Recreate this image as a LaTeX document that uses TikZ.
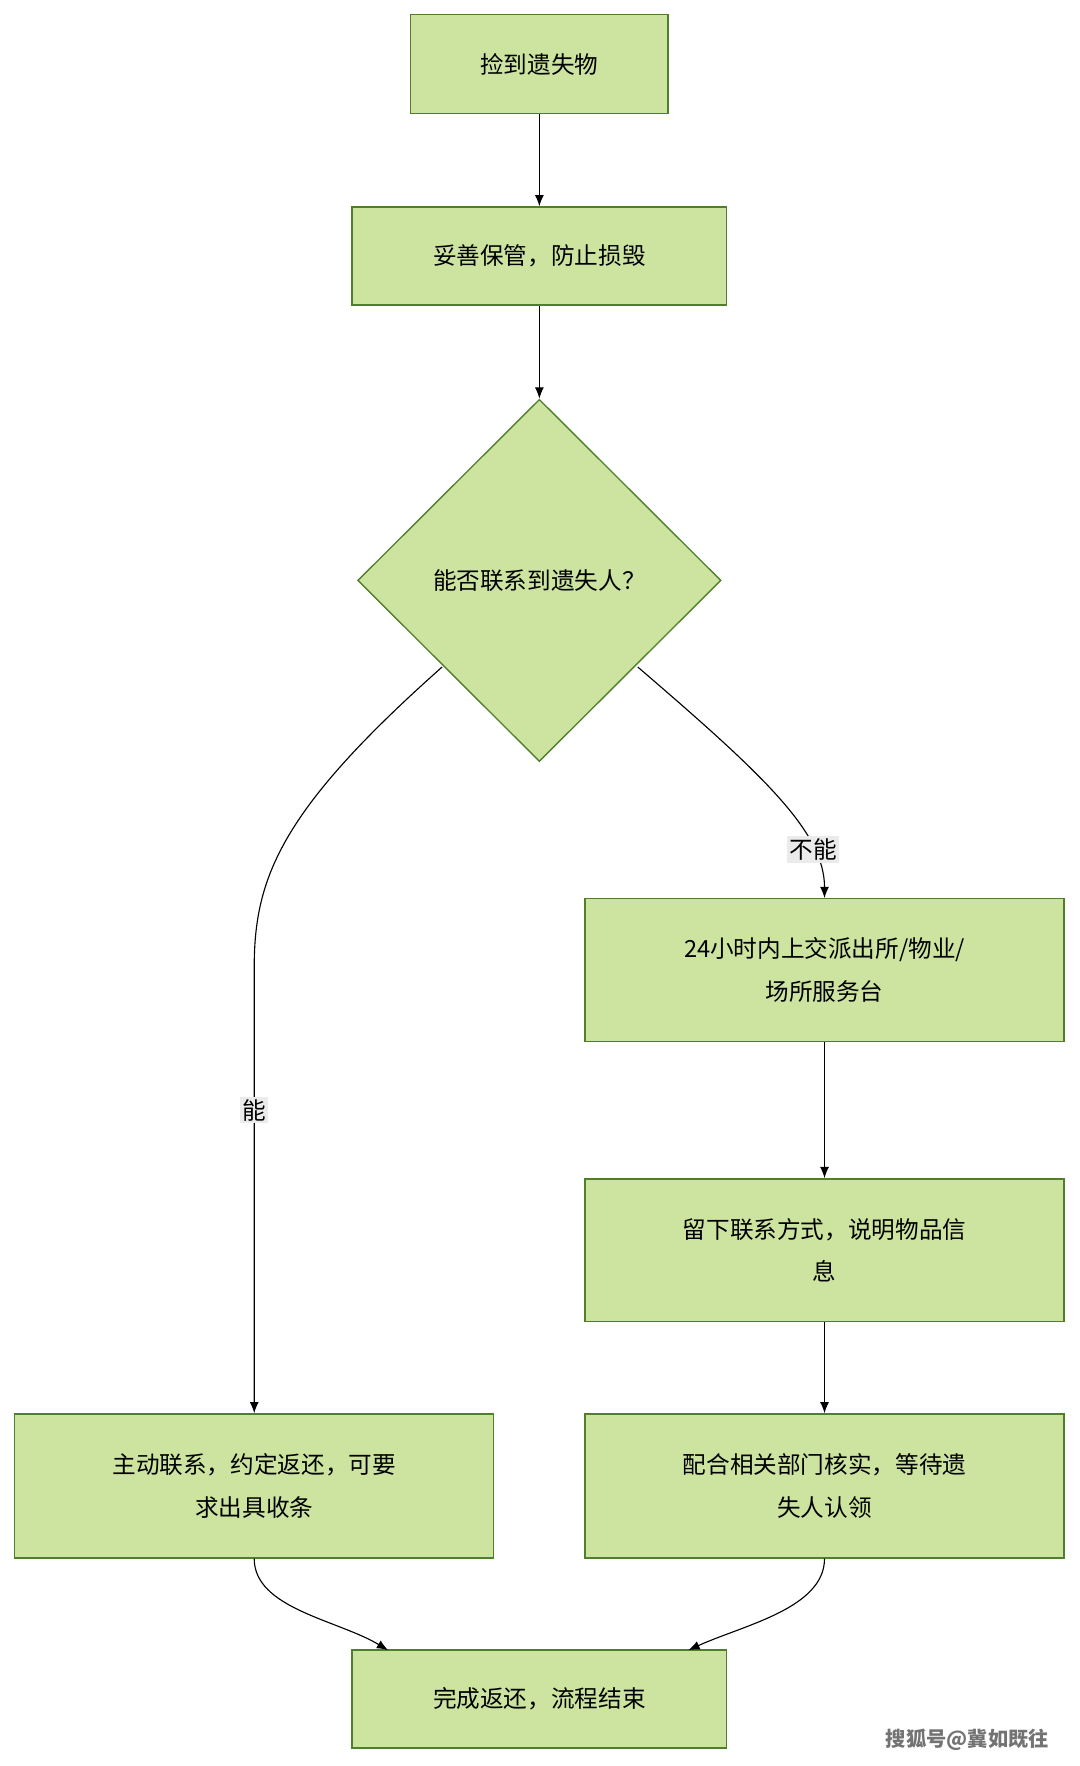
\documentclass[tikz,border=0pt]{standalone}
\usepackage{fontspec}
\setmainfont{Noto Sans CJK SC}
\usetikzlibrary{shapes.geometric,arrows.meta}
\definecolor{fillg}{HTML}{CDE4A0}
\definecolor{lineg}{HTML}{4F7F2A}
\begin{document}
\begin{tikzpicture}[x=1pt,y=-1pt,
 box/.style={draw=lineg,fill=fillg,line width=1.2pt,align=center,inner sep=0pt,font=\fontsize{21}{38}\selectfont},
 lab/.style={fill=black!8,inner sep=2pt,font=\fontsize{21}{26}\selectfont},
 arr/.style={-{Latex[length=10pt,width=8pt]},line width=1pt}]
\useasboundingbox (0,0) rectangle (960,1570);
\node[box,minimum width=229pt,minimum height=88pt] (a) at (479.5,57) {捡到遗失物};
\node[box,minimum width=333pt,minimum height=87pt] (b) at (479.5,227.5) {妥善保管，防止损毁};
\node[box,diamond,minimum width=323pt,minimum height=322pt] (d) at (479.5,516) {能否联系到遗失人？};
\node[box,minimum width=426pt,minimum height=127pt] (r1) at (733,862.5) {24小时内上交派出所/物业/\\场所服务台};
\node[box,minimum width=426pt,minimum height=127pt] (r2) at (733,1111.5) {留下联系方式，说明物品信\\息};
\node[box,minimum width=426pt,minimum height=128pt] (r3) at (733,1321) {配合相关部门核实，等待遗\\失人认领};
\node[box,minimum width=426pt,minimum height=128pt] (l) at (226,1321) {主动联系，约定返还，可要\\求出具收条};
\node[box,minimum width=333pt,minimum height=87pt] (f) at (479.5,1510.5) {完成返还，流程结束};
\draw[arr] (a) -- (b);
\draw[arr] (b) -- (d.north);
\coordinate (dl) at (393,593);
\coordinate (dr) at (567,593);
\draw[arr] (dl) .. controls (250,720) and (226,780) .. (226,860) -- node[lab,pos=0.32]{能} (l.north);
\draw[arr] (dr) .. controls (680,690) and (733,740) .. node[lab,pos=0.75]{不能} (r1.north);
\draw[arr] (r1) -- (r2);
\draw[arr] (r2) -- (r3);
\draw[arr] (l.south) .. controls (226,1430) and (300,1440) .. (345,1467);
\draw[arr] (r3.south) .. controls (733,1430) and (660,1445) .. (612,1467);
\node[font=\fontsize{18}{20}\selectfont\bfseries,text=black!55] (w) at (860,1547) {搜狐号@冀如既往};
\end{tikzpicture}
\end{document}
